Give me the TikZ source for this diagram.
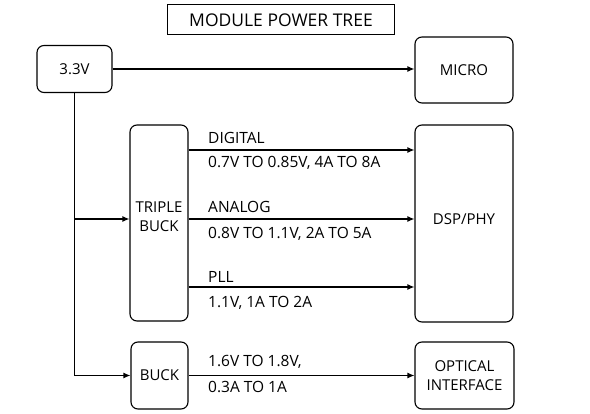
\documentclass[tikz,border=0pt]{standalone}
\usepackage{fontspec}
\setmainfont{Open Sans}
\usetikzlibrary{arrows.meta}
\begin{document}
\begin{tikzpicture}[x=1pt,y=-1pt,
  box/.style={draw,line width=1.1pt,rounded corners=7pt,align=center,inner sep=0pt,font=\fontsize{15}{19}\selectfont},
  arr/.style={line width=1.2pt,-{Latex[length=7pt,width=6pt]}},
  lbl/.style={anchor=west,inner sep=0pt,font=\fontsize{15.5}{18}\selectfont}]
\useasboundingbox (0,0) rectangle (590,414);
\node[draw,line width=1pt,minimum width=227pt,minimum height=30pt,inner sep=0pt,font=\fontsize{17.5}{20}\selectfont] (title) at (281,20) {MODULE POWER TREE};
\node[box,minimum width=75pt,minimum height=47pt] (v33) at (74.5,69) {3.3V};
\node[box,minimum width=98pt,minimum height=66pt] (micro) at (464,70) {MICRO};
\node[box,minimum width=58pt,minimum height=196pt] (tb) at (159,223) {};
\node[align=center,inner sep=0pt,font=\fontsize{15}{19}\selectfont] (tbtext) at (159,217) {TRIPLE\\BUCK};
\node[box,minimum width=98pt,minimum height=197pt] (dsp) at (464,223.5) {};
\node[inner sep=0pt,font=\fontsize{15}{19}\selectfont] (dsptext) at (464,219) {DSP/PHY};
\node[box,minimum width=57pt,minimum height=67pt] (buck) at (159.5,375.5) {BUCK};
\node[box,minimum width=99pt,minimum height=67pt] (opt) at (464.5,375.5) {OPTICAL\\INTERFACE};
\draw[arr] (v33.east |- 0,69) -- (micro.west |- 0,69);
\draw[arr] (v33.south) -- (v33.south |- buck.west) -- (buck.west);
\draw[arr] (v33.south |- 0,219) -- (tb.west |- 0,219);
\draw[arr] (tb.east |- 0,150) -- (dsp.west |- 0,150);
\draw[arr] (tb.east |- 0,219) -- (dsp.west |- 0,219);
\draw[arr] (tb.east |- 0,287) -- (dsp.west |- 0,287);
\draw[arr] (buck.east) -- (opt.west);
\node[lbl] (l1) at (208,138) {DIGITAL};
\node[lbl] (l2) at (208,163) {0.7V TO 0.85V, 4A TO 8A};
\node[lbl] (l3) at (208,207) {ANALOG};
\node[lbl] (l4) at (208,234) {0.8V TO 1.1V, 2A TO 5A};
\node[lbl] (l5) at (208,277) {PLL};
\node[lbl] (l6) at (208,303) {1.1V, 1A TO 2A};
\node[lbl] (l7) at (208,362) {1.6V TO 1.8V,};
\node[lbl] (l8) at (208,387) {0.3A TO 1A};
\end{tikzpicture}
\end{document}
